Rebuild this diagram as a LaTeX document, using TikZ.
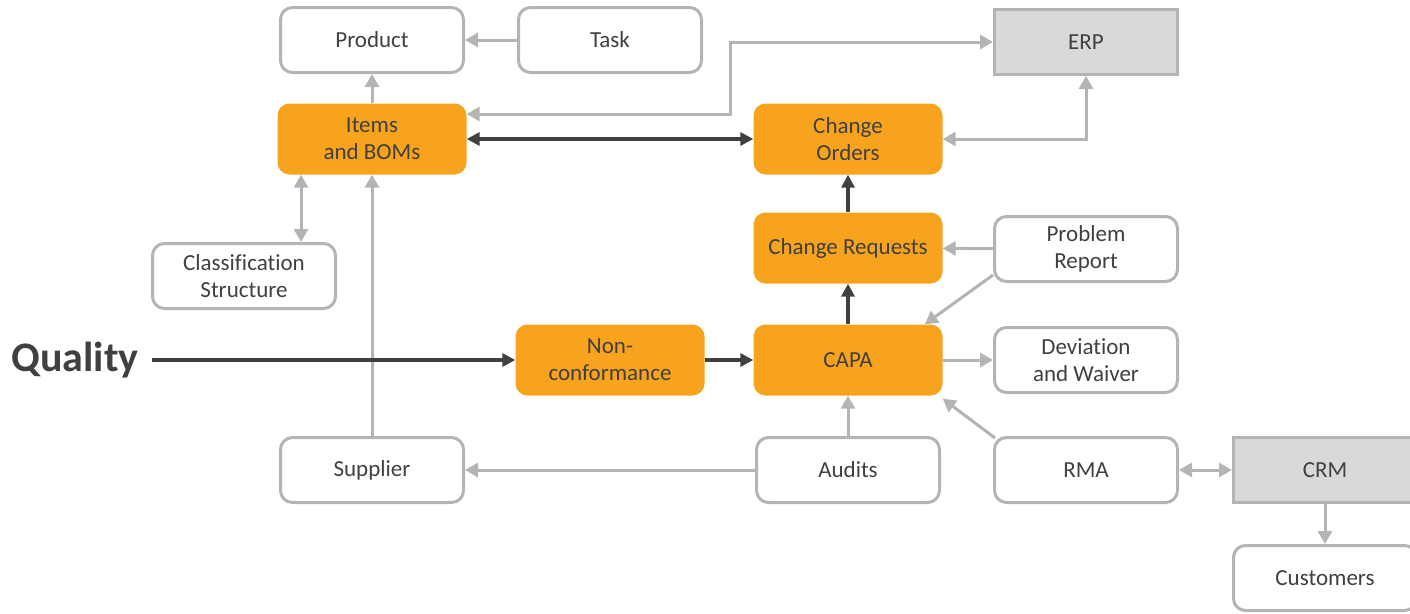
\documentclass[tikz,border=0pt]{standalone}
\usepackage{fontspec}
\setmainfont{Carlito}[Ligatures=NoCommon]
\usepackage{tikz}
\usetikzlibrary{arrows.meta}

\definecolor{qorange}{HTML}{F8A31E}
\definecolor{qgray}{HTML}{B4B4B4}
\definecolor{qdark}{HTML}{404040}
\definecolor{qfill}{HTML}{D9D9D9}

\begin{document}
\begin{tikzpicture}[x=1pt, y=-1pt, text=qdark,
  font=\fontsize{23}{27}\selectfont,
  box/.style = {draw=qgray, line width=3pt, rounded corners=12pt, fill=white, minimum width=183pt, minimum height=65pt, align=center, inner sep=0pt},
  hot/.style = {fill=qorange, rounded corners=12pt, minimum width=189pt, minimum height=71pt, align=center, inner sep=0pt},
  ext/.style = {draw=qgray, line width=3pt, fill=qfill, minimum width=183pt, minimum height=65pt, align=center, inner sep=0pt},
  gline/.style = {draw=qgray, line width=3pt, -{Triangle[length=13pt,width=14pt]}},
  gboth/.style = {gline, {Triangle[length=13pt,width=14pt]}-{Triangle[length=13pt,width=14pt]}},
  dline/.style = {draw=qdark, line width=4pt, -{Triangle[length=13pt,width=13pt]}}]
\useasboundingbox (0,0) rectangle (1410,613);
\node[box] (product) at (372,40) {Product};
\node[box] (task) at (610,40) {Task};
\node[ext] (erp) at (1086,42) {ERP};
\node[hot] (items) at (372,139) {Items\\and BOMs};
\node[hot] (orders) at (848,139) {Change\\Orders};
\node[hot] (requests) at (848,248) {Change Requests};
\node[box] (problem) at (1086,249) {Problem\\Report};
\node[box] (class) at (244,276) {Classification\\Structure};
\node[hot] (noncon) at (610,360) {Non-\\conformance};
\node[hot] (capa) at (848,360) {CAPA};
\node[box] (deviation) at (1086,360) {Deviation\\and Waiver};
\node[box] (supplier) at (372,470) {Supplier};
\node[box] (audits) at (848,470) {Audits};
\node[box] (rma) at (1086,470) {RMA};
\node[ext] (crm) at (1325,470) {CRM};
\node[box] (customers) at (1325,578) {Customers};
\node[font=\fontsize{42}{48}\selectfont\bfseries] (quality) at (75,360) {Quality};
% gray links
\draw[gline] (task) -- (product);
\draw[gline] (items) -- (product);
\draw[gboth] ([yshift=25pt]items.east) -- ++(264,0) |- (erp.west);
\draw[gboth] (orders.east) -| (erp.south);
\draw[gboth] ([xshift=57pt]class.north) -- ([xshift=57pt]class.north |- items.south);
\draw[gline] (supplier) -- (items);
\draw[gline] (problem) -- (requests);
\draw[gline] ([yshift=8pt]problem.south west) -- ([xshift=-18pt]capa.north east);
\draw[gline] (capa) -- (deviation);
\draw[gline] ([xshift=2pt,yshift=-2pt]rma.north west) -- ([yshift=-3pt]capa.south east);
\draw[gline] (audits) -- (capa);
\draw[gline] (audits) -- (supplier);
\draw[gboth] (rma) -- (crm);
\draw[gline] (crm) -- (customers);
% dark links
\draw[dline, {Triangle[length=13pt,width=13pt]}-{Triangle[length=13pt,width=13pt]}] (items) -- (orders);
\draw[dline] (requests) -- (orders);
\draw[dline] (capa) -- (requests);
\draw[dline, shorten <=10pt] (quality) -- (noncon);
\draw[dline] (noncon) -- (capa);
\end{tikzpicture}
\end{document}
